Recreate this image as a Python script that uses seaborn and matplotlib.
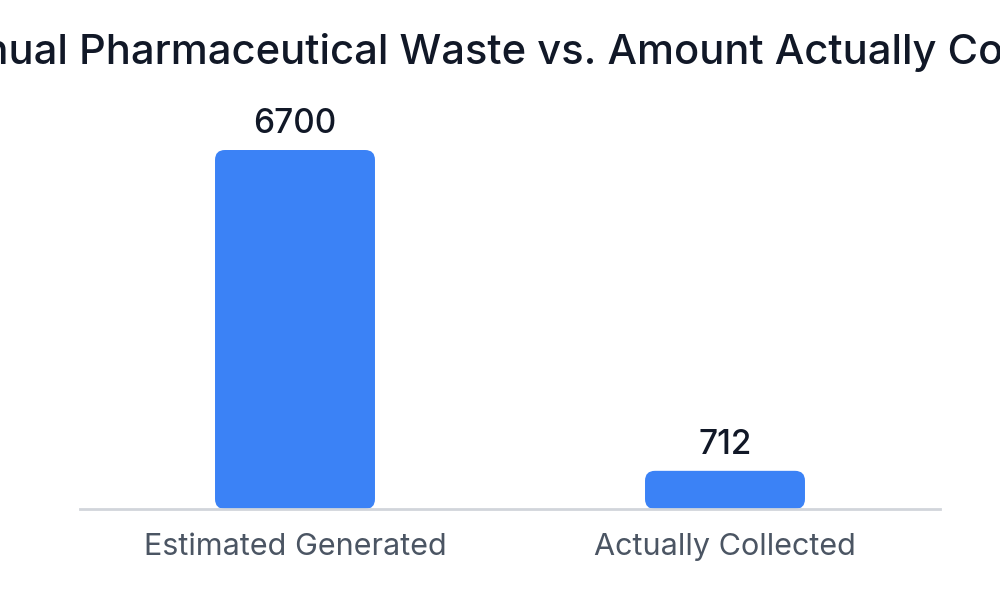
import pandas as pd
import seaborn as sns
import matplotlib.pyplot as plt
from matplotlib.patches import FancyBboxPatch

# === data ===
categories = ["Estimated Generated", "Actually Collected"]
amounts = [6700, 712]
title = "Annual Pharmaceutical Waste vs. Amount Actually Collected"

df = pd.DataFrame({"category": categories, "amount": amounts})

sns.set_theme(style="white")
plt.rcParams["font.family"] = ["Inter", "DejaVu Sans"]

fig = plt.figure(figsize=(10, 6), dpi=100)
ax = fig.add_axes([0.08, 0.1517, 0.86, 0.6816])

sns.barplot(data=df, x="category", y="amount", color="#3b82f6",
            width=0.372, saturation=1, ax=ax)
ax.set_xlim(-0.5, 1.5)
ax.set_ylim(0, 7633)

# swap plain bars for rounded ones
r_x = 0.023
r_aspect = (7633 / 409) / (2 / 860)
for p in list(ax.patches):
    x, y = p.get_x(), p.get_y()
    w, h = p.get_width(), p.get_height()
    rb = FancyBboxPatch((x, y), w, h,
                        boxstyle=f"round,pad=0,rounding_size={r_x}",
                        mutation_aspect=r_aspect,
                        facecolor="#3b82f6", edgecolor="none", zorder=2)
    p.remove()
    ax.add_patch(rb)

for i, v in enumerate(amounts):
    ax.annotate(str(v), (i, v), xytext=(0, 7), textcoords="offset points",
                ha="center", va="bottom", fontsize=24, fontweight="medium",
                color="#111827")

ax.set_xlabel("")
ax.set_ylabel("")
ax.set_yticks([])
for s in ["top", "left", "right"]:
    ax.spines[s].set_visible(False)
ax.spines["bottom"].set_color("#d1d5db")
ax.spines["bottom"].set_linewidth(2)
ax.tick_params(axis="x", length=0, pad=17, labelsize=22, labelcolor="#4b5563")

fig.text(0.533, 0.913, title, ha="center", va="center",
         fontsize=30, fontweight="medium", color="#111827")

fig.savefig("out.png", dpi=100)
